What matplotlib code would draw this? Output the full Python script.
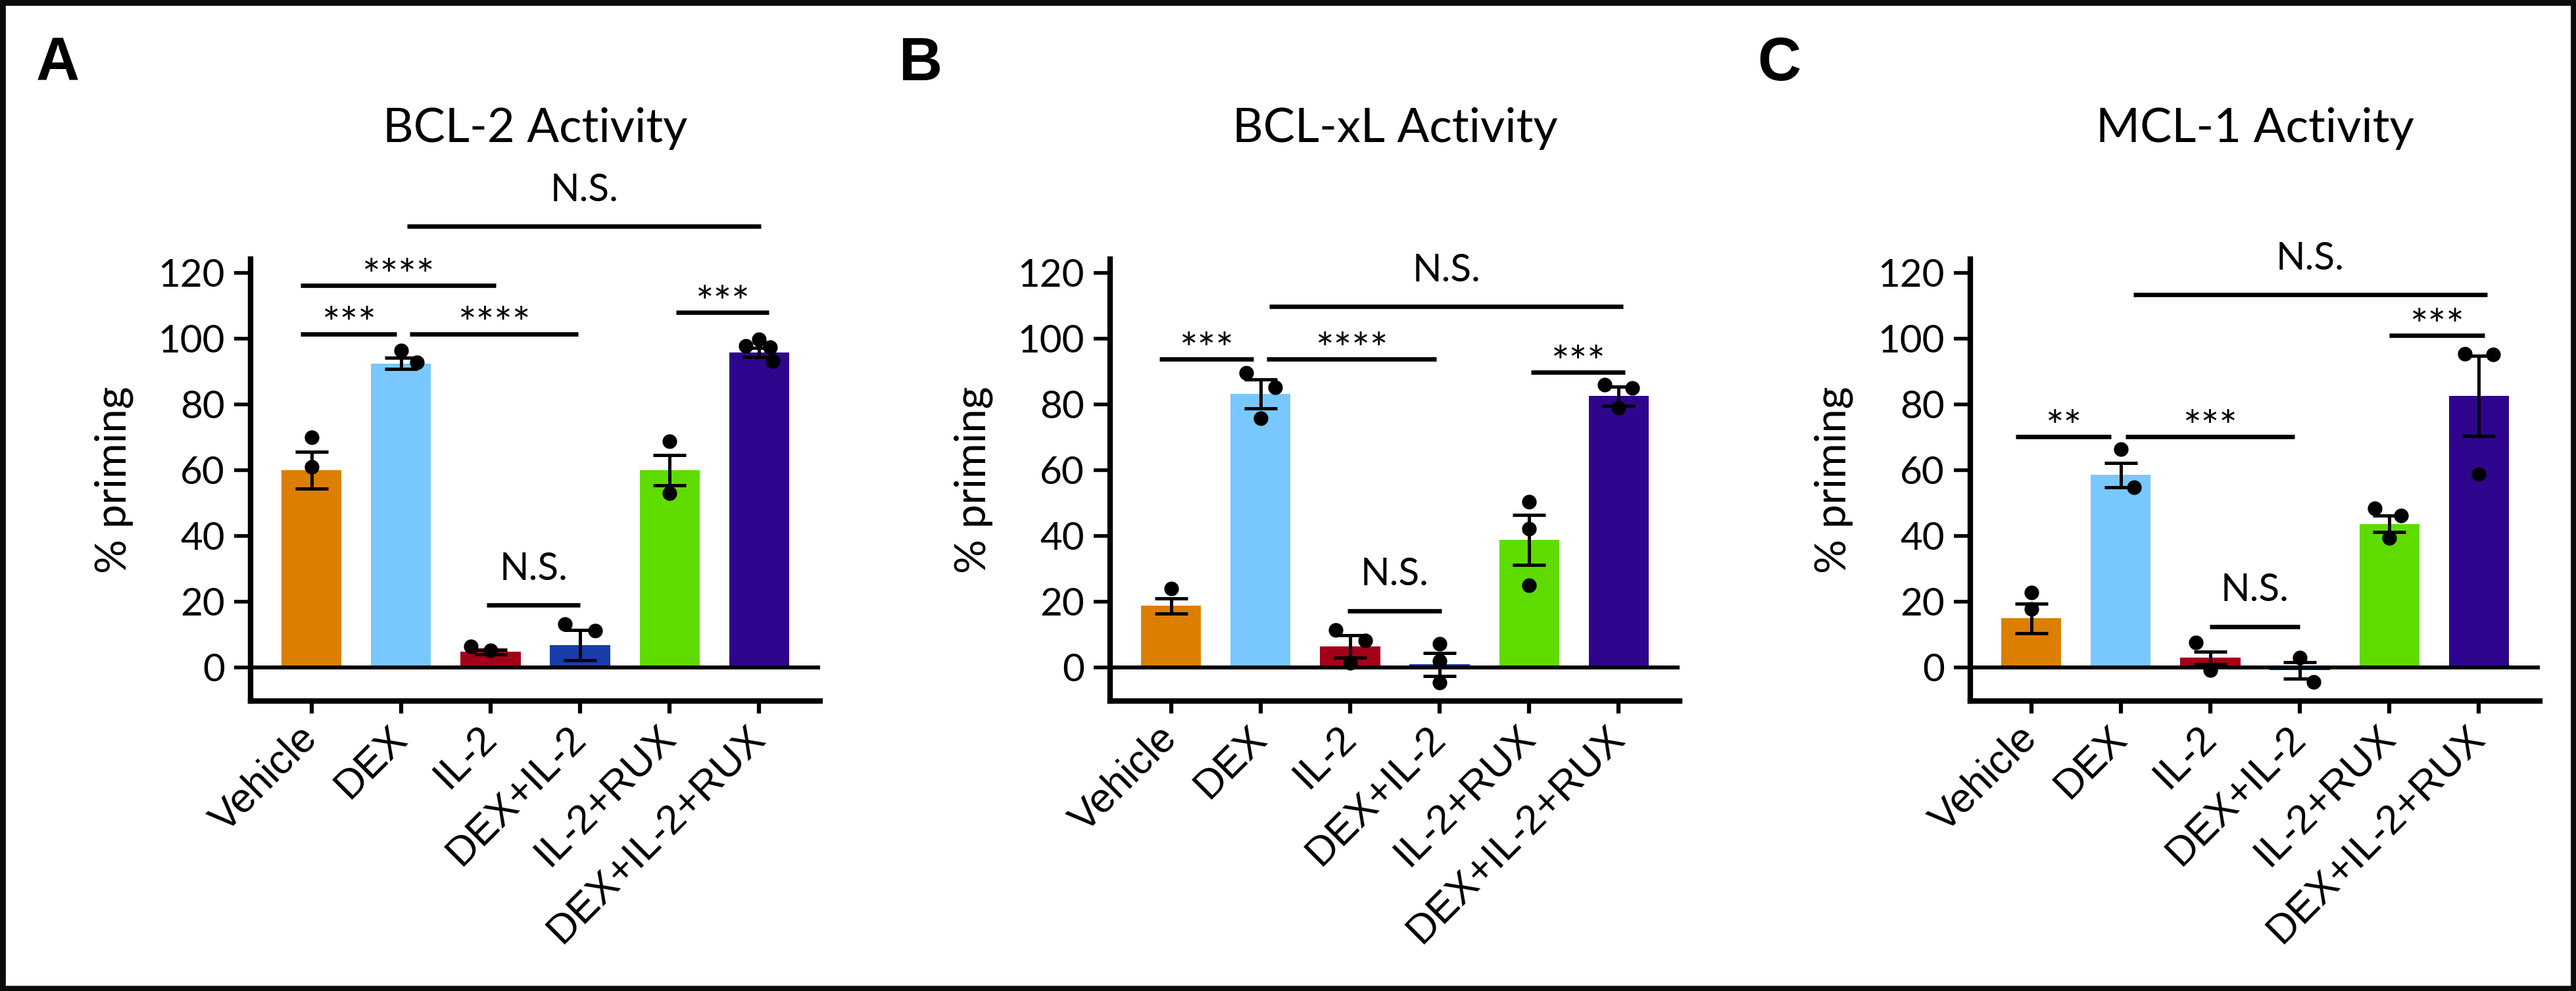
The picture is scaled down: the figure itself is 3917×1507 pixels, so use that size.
import matplotlib.pyplot as plt
from matplotlib.patches import Rectangle

# groups and bar colours
groups = ['Vehicle', 'DEX', 'IL-2', 'DEX+IL-2', 'IL-2+RUX', 'DEX+IL-2+RUX']
colors = ['#DC7F00', '#78C8FF', '#A3001A', '#1A3CAA', '#5EDC00', '#2E068E']

# A: BCL-2 activity
bcl2_mean = [60, 92.5, 4.8, 6.8, 60, 95.9]
bcl2_sem = [5.6, 1.7, 0.7, 4.6, 4.6, 1.4]
bcl2_pts = [[70, 61], [96.4, 92.8], [6.5, 5.2], [13.2, 11.2], [68.8, 53], [99.8, 97.8, 97.5, 93.3]]
bcl2_dx = [[0, 0], [0, 0.18], [-0.22, 0], [-0.17, 0.17], [0, 0], [0, -0.15, 0.12, 0.15]]
bcl2_sig = [('****', -0.12, 2.06, 116.2), ('***', -0.12, 0.95, 101.5),
            ('****', 1.10, 2.98, 101.5), ('***', 4.07, 5.11, 108.1),
            ('N.S.', 1.07, 5.02, 134.2), ('N.S.', 1.96, 3.0, 19.1)]

# B: BCL-xL activity
bclxl_mean = [18.8, 83.2, 6.5, 1.0, 38.8, 82.6]
bclxl_sem = [2.3, 4.4, 3.4, 3.5, 7.6, 2.9]
bclxl_pts = [[24], [89.7, 85.2, 75.9], [11.5, 8.3, 1.5], [7.3, 2.1, -4.6], [50.5, 42.2, 25.1], [86, 85, 79]]
bclxl_dx = [[0], [-0.16, 0.16, 0], [-0.16, 0.17, 0], [0, 0, 0], [0, 0, 0], [-0.16, 0.15, 0]]
bclxl_sig = [('***', -0.13, 0.92, 93.8), ('****', 1.07, 2.96, 93.8),
             ('***', 4.02, 5.07, 89.8), ('N.S.', 1.10, 5.05, 109.9),
             ('N.S.', 1.97, 3.02, 17.3)]

# C: MCL-1 activity
mcl1_mean = [15, 58.6, 3.0, -0.8, 43.7, 82.7]
mcl1_sem = [4.5, 3.7, 1.9, 2.5, 2.5, 12.2]
mcl1_pts = [[22.8, 17.9], [66.4, 54.9], [7.6, -0.7], [3.1, -4.4], [48.4, 46.3, 39.5], [95.5, 95.2, 58.9]]
mcl1_dx = [[0, 0], [0, 0.15], [-0.16, 0], [0, 0.15], [-0.16, 0.13, 0], [-0.16, 0.16, 0]]
mcl1_sig = [('**', -0.17, 0.89, 70.2), ('***', 1.05, 2.94, 70.2),
            ('***', 4.0, 5.06, 101.0), ('N.S.', 1.14, 5.09, 113.5),
            ('N.S.', 1.99, 3.0, 12.5)]

panels = [
    ('A', 'BCL-2 Activity', bcl2_mean, bcl2_sem, bcl2_pts, bcl2_dx, bcl2_sig),
    ('B', 'BCL-xL Activity', bclxl_mean, bclxl_sem, bclxl_pts, bclxl_dx, bclxl_sig),
    ('C', 'MCL-1 Activity', mcl1_mean, mcl1_sem, mcl1_pts, mcl1_dx, mcl1_sig),
]

W, H = 3917, 1507
fig = plt.figure(figsize=(W / 100, H / 100), dpi=100)
txt_font = 'Lato'
lab_font = 'Liberation Sans'

ax_left_px = [381, 1688, 2996]
letter_x_px = [88, 1400, 2705]
ax_w_px = 866
ax_top_px, ax_bot_px = 394, 1066

for k, (letter, title, mean, sem, pts, dx, sig) in enumerate(panels):
    ax = fig.add_axes([ax_left_px[k] / W, 1 - ax_bot_px / H,
                       ax_w_px / W, (ax_bot_px - ax_top_px) / H])
    x = list(range(len(groups)))
    ax.bar(x, mean, width=0.67, color=colors, zorder=2)
    ax.axhline(0, color='black', lw=4.3, zorder=3)
    ax.errorbar(x, mean, yerr=sem, fmt='none', ecolor='black',
                elinewidth=3.6, capsize=18, capthick=3.6, zorder=4)
    for i in x:
        ax.plot([i + d for d in dx[i]], pts[i], 'o', color='black',
                markersize=15, zorder=5, clip_on=False)

    # significance brackets
    for s, x0, x1, y in sig:
        ax.plot([x0, x1], [y, y], color='black', lw=4.8, clip_on=False,
                solid_capstyle='butt')
        if s == 'N.S.':
            ax.text((x0 + x1) / 2, y + 7.6, s, ha='center', va='baseline',
                    fontsize=42, family=txt_font)
        else:
            ax.text((x0 + x1) / 2, y - 1.6, s, ha='center', va='baseline',
                    fontsize=47, family=txt_font)

    ax.set_xlim(-0.68, 5.68)
    ax.set_ylim(-10.2, 124.2)
    ax.set_yticks(range(0, 121, 20))
    ax.set_xticks(x)
    ax.set_xticklabels(groups, rotation=45, ha='right', va='center',
                       rotation_mode='anchor', fontsize=45, family=lab_font)
    for t in ax.get_yticklabels():
        t.set_fontsize(42)
        t.set_family(txt_font)
    ax.tick_params(axis='y', length=18, width=4, pad=10)
    ax.tick_params(axis='x', length=14, width=4.5, pad=20)
    for side in ['top', 'right']:
        ax.spines[side].set_visible(False)
    for side in ['left', 'bottom']:
        ax.spines[side].set_linewidth(6)

    ax.set_ylabel('% priming', fontsize=47, family=txt_font)
    ax.yaxis.set_label_coords(-0.206, 0.5)
    ax.set_title(title, fontsize=52, family=txt_font, pad=128)

    fig.text(letter_x_px[k] / W, 1 - 98 / H, letter, fontsize=66,
             fontweight='bold', family=lab_font, ha='center', va='center')

fig.patches.append(Rectangle((0, 0), 1, 1, transform=fig.transFigure,
                             fill=False, edgecolor='#0a0c0a', lw=12))

fig.savefig('out.png', dpi=100, facecolor='white')
